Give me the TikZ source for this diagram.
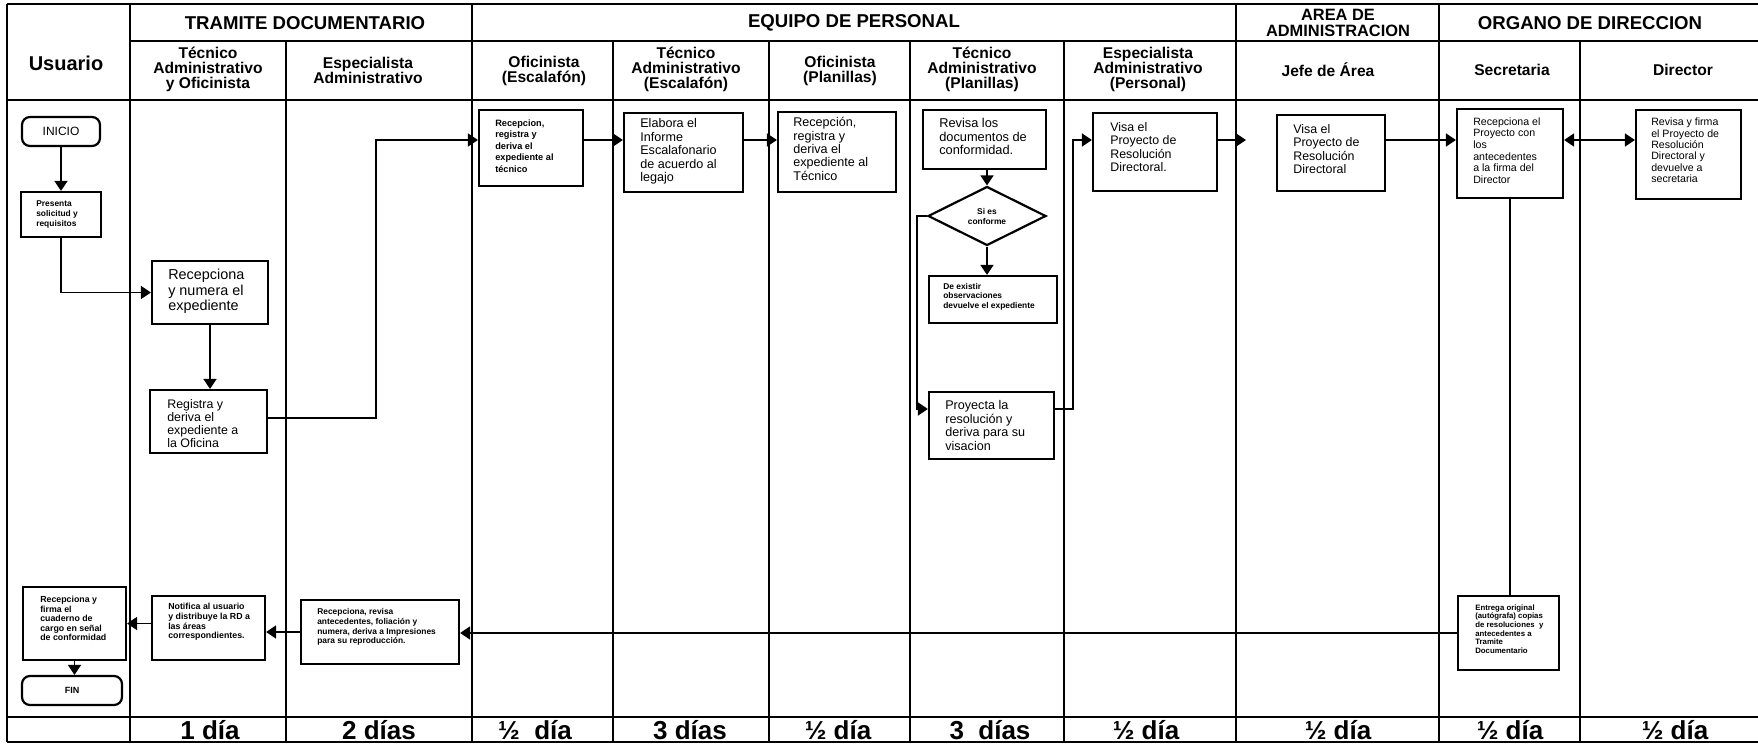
\documentclass[tikz,border=0pt]{standalone}
\usepackage{fontspec}
\setmainfont{Liberation Sans}
\usetikzlibrary{arrows.meta,shapes.geometric,fit}
\newcommand\setfs[2]{\fontsize{#1pt}{#2pt}\selectfont}
% box from its top-left and bottom-right corners (pixel grid, y downwards)
\newcommand\flowbox[6]{\node[#1, fit={(#3,#4) (#5,#6)}] (#2) {};}

\begin{document}
\begin{tikzpicture}[x=0.5pt,y=-0.5pt,
  tabline/.style={line width=0.8pt},
  tabedge/.style={line width=1.3pt},
  box/.style={draw, line width=1.1pt, inner sep=0pt},
  term/.style={box, rounded corners=4pt},
  dec/.style={draw, diamond, line width=1.1pt, inner sep=0pt,
              minimum width=59pt, minimum height=29.5pt, align=center},
  txt/.style={anchor=west, align=left, inner sep=0pt},
  link/.style={line width=0.9pt},
  arr/.style={link, -{Triangle[length=5pt,width=6.5pt]}},
  darr/.style={link, {Triangle[length=5pt,width=6.5pt]}-{Triangle[length=5pt,width=6.5pt]}},
  hdA/.style={font=\setfs{9.3}{9}\bfseries, align=center},
  hdB/.style={font=\setfs{7.8}{7.5}\bfseries, align=center},
  hdU/.style={font=\setfs{10}{11}\bfseries},
  foot/.style={font=\setfs{13}{14}\bfseries}
]
\useasboundingbox (0,0) rectangle (1758,744);

% ---------- table ----------
\draw[tabedge] (7,4) -- (1758,4);
\draw[tabedge] (7,742) -- (1758,742);
\draw[tabline] (7,4) -- (7,742);
\draw[tabline] (130,41) -- (1758,41);
\draw[tabline] (7,100) -- (1758,100);
\draw[tabline] (7,717) -- (1758,717);
\foreach \x in {130,472,1236,1439} \draw[tabline] (\x,4) -- (\x,742);
\foreach \x in {286,613,769,910,1064,1580} \draw[tabline] (\x,41) -- (\x,742);

% ---------- headers ----------
\node[hdA] (gTram) at (305,23) {TRAMITE DOCUMENTARIO};
\node[hdA] (gEquipo) at (854,23) {EQUIPO DE PERSONAL};
\node[hdA, font=\setfs{8.2}{8.4}\bfseries] (gArea) at (1338,23) {AREA DE\\ADMINISTRACION};
\node[hdA] (gOrgano) at (1590,23) {ORGANO DE DIRECCION};

\node[hdU] (hUsu) at (66,63) {Usuario};
\node[hdB] (hTecOf) at (208,69) {Técnico\\Administrativo\\y Oficinista};
\node[hdB] (hEsp) at (368,70) {Especialista\\Administrativo};
\node[hdB] (hOfEsc) at (544,71) {Oficinista\\(Escalafón)};
\node[hdB] (hTecEsc) at (686,69) {Técnico\\Administrativo\\(Escalafón)};
\node[hdB] (hOfPl) at (840,71) {Oficinista\\(Planillas)};
\node[hdB] (hTecPl) at (982,69) {Técnico\\Administrativo\\(Planillas)};
\node[hdB] (hEspPer) at (1148,69) {Especialista\\Administrativo\\(Personal)};
\node[hdB] (hJefe) at (1328,70) {Jefe de Área};
\node[hdB] (hSecr) at (1512,70) {Secretaria};
\node[hdB] (hDir) at (1683,70) {Director};

% ---------- footer ----------
\node[foot] (d1) at (210,730) {1 día};
\node[foot] (d2) at (379,730) {2 días};
\node[foot] (d3) at (535,730) {½~ día};
\node[foot] (d4) at (690,730) {3 días};
\node[foot] (d5) at (838,730) {½ día};
\node[foot] (d6) at (990,730) {3~ días};
\node[foot] (d7) at (1146,730) {½ día};
\node[foot] (d8) at (1338,730) {½ día};
\node[foot] (d9) at (1510,730) {½ día};
\node[foot] (d10) at (1675,730) {½ día};

% ---------- process boxes ----------
\flowbox{term}{inicio}{22}{117}{100}{146}
\node[font=\setfs{6}{7}] (inicioT) at (inicio) {INICIO};

\flowbox{box}{presenta}{21}{192}{101}{237}
\node[txt, font=\setfs{4.2}{5}\bfseries] (presentaT) at ([xshift=8pt]presenta.west) {Presenta\\solicitud y\\requisitos};

\flowbox{box}{recep}{152}{261}{268}{324}
\node[txt, font=\setfs{7.2}{7.7}] (recepT) at ([xshift=8.5pt,yshift=0.5pt]recep.west) {Recepciona\\y numera el\\expediente};

\flowbox{box}{registra}{150}{390}{267}{453}
\node[txt, font=\setfs{6.2}{6.5}] (registraT) at ([xshift=9pt,yshift=-1pt]registra.west) {Registra y\\deriva el\\expediente a\\la Oficina};

\flowbox{box}{ofic}{479}{110}{583}{186}
\node[txt, font=\setfs{4.6}{5.7}\bfseries] (oficT) at ([xshift=8.5pt,yshift=1pt]ofic.west) {Recepcion,\\registra y\\deriva el\\expediente al\\técnico};

\flowbox{box}{tecesc}{624}{113}{743}{192}
\node[txt, font=\setfs{6.3}{6.7}] (tecescT) at ([xshift=8.5pt,yshift=0.5pt]tecesc.west) {Elabora el\\Informe\\Escalafonario\\de acuerdo al\\legajo};

\flowbox{box}{oficpl}{778}{112}{896}{192}
\node[txt, font=\setfs{6.3}{6.7}] (oficplT) at ([xshift=8pt,yshift=1.5pt]oficpl.west) {Recepción,\\registra y\\deriva el\\expediente al\\Técnico};

\flowbox{box}{revisa}{923}{110}{1046}{169}
\node[txt, font=\setfs{6.4}{6.8}] (revisaT) at ([xshift=8.5pt,yshift=1.5pt]revisa.west) {Revisa los\\documentos de\\conformidad.};

\node[dec, font=\setfs{4.2}{5}\bfseries] (dec) at (987,216) {Si es\\conforme};

\flowbox{box}{existir}{929}{276}{1057}{323}
\node[txt, font=\setfs{4.2}{4.75}\bfseries] (existirT) at ([xshift=7.5pt,yshift=1.5pt]existir.west) {De existir\\observaciones\\devuelve el expediente};

\flowbox{box}{proyecta}{929}{392}{1054}{459}
\node[txt, font=\setfs{6.3}{6.7}] (proyectaT) at ([xshift=8.5pt]proyecta.west) {Proyecta la\\resolución y\\deriva para su\\visacion};

\flowbox{box}{esppers}{1093}{113}{1217}{191}
\node[txt, font=\setfs{6.2}{6.7}] (esppersT) at ([xshift=9pt,yshift=2.5pt]esppers.west) {Visa el\\Proyecto de\\Resolución\\Directoral.};

\flowbox{box}{jefe}{1277}{115}{1385}{191}
\node[txt, font=\setfs{6.2}{6.7}] (jefeT) at ([xshift=8.5pt,yshift=2pt]jefe.west) {Visa el\\Proyecto de\\Resolución\\Directoral};

\flowbox{box}{secret}{1457}{109}{1563}{198}
\node[txt, font=\setfs{5.3}{5.8}] (secretT) at ([xshift=8.5pt,yshift=1.5pt]secret.west) {Recepciona el\\Proyecto con\\los\\antecedentes\\a la firma del\\Director};

\flowbox{box}{director}{1636}{110}{1741}{199}
\node[txt, font=\setfs{5.3}{5.7}] (directorT) at ([xshift=8pt,yshift=2pt]director.west) {Revisa y firma\\el Proyecto de\\Resolución\\Directoral y\\devuelve a\\secretaria};

\flowbox{box}{entrega}{1458}{596}{1559}{670}
\node[txt, font=\setfs{3.9}{4.35}\bfseries] (entregaT) at ([xshift=9pt,yshift=2pt]entrega.west) {Entrega original\\(autógrafa) copias\\de resoluciones~ y\\antecedentes a\\Tramite\\Documentario};

\flowbox{box}{firma}{23}{587}{126}{660}
\node[txt, font=\setfs{4.4}{4.8}\bfseries] (firmaT) at ([xshift=9pt,yshift=2.5pt]firma.west) {Recepciona y\\firma el\\cuaderno de\\cargo en señal\\de conformidad};

\flowbox{term}{fin}{22}{676}{122}{705}
\node[font=\setfs{4.5}{5}\bfseries] (finT) at (fin) {FIN};

\flowbox{box}{notifica}{152}{596}{265}{660}
\node[txt, font=\setfs{4.4}{4.85}\bfseries] (notificaT) at ([xshift=8.5pt,yshift=3pt]notifica.west) {Notifica al usuario\\y distribuye la RD a\\las áreas\\correspondientes.};

\flowbox{box}{revisados}{301}{600}{459}{664}
\node[txt, font=\setfs{4.2}{4.85}\bfseries] (revisadosT) at ([xshift=8.5pt,yshift=2.5pt]revisados.west) {Recepciona, revisa\\antecedentes, foliación y\\numera, deriva a Impresiones\\para su reproducción.};

% ---------- connectors ----------
\coordinate (lane) at (0,140);
\coordinate (bendA) at (376,418);
\coordinate (bendB) at (917,409);
\coordinate (bendC) at (1073,409);
\coordinate (jefeIn) at (1246,140);

\draw[arr] (inicio.south) -- (presenta.north);
\draw[arr] (presenta.south) |- (recep.west);
\draw[arr] (recep.south) -- (recep.south |- registra.north);
\draw[arr] (registra.east |- bendA) -- (bendA) |- (ofic.west |- lane);
\draw[arr] (ofic.east |- lane) -- (tecesc.west |- lane);
\draw[arr] (tecesc.east |- lane) -- (oficpl.west |- lane);
\draw[arr] (dec.north |- revisa.south) -- (dec.north);
\draw[arr] (dec.south) -- (dec.south |- existir.north);
\draw[arr] (dec.west) -| (bendB) -- (bendB -| proyecta.west);
\draw[arr] (proyecta.east |- bendC) -- (bendC) |- (esppers.west |- lane);
\draw[arr] (esppers.east |- jefeIn) -- (jefeIn);
\draw[arr] (jefe.east |- lane) -- (secret.west |- lane);
\draw[darr] (secret.east |- lane) -- (director.west |- lane);
\draw[link] (secret.south) -- (secret.south |- entrega.north);
\draw[arr] (entrega.west) -- (entrega.west -| revisados.east);
\draw[arr] (revisados.west) -- (revisados.west -| notifica.east);
\draw[arr] (notifica.west |- firma.east) -- (firma.east);
\draw[arr] (firma.south) -- (firma.south |- fin.north);
\end{tikzpicture}
\end{document}
